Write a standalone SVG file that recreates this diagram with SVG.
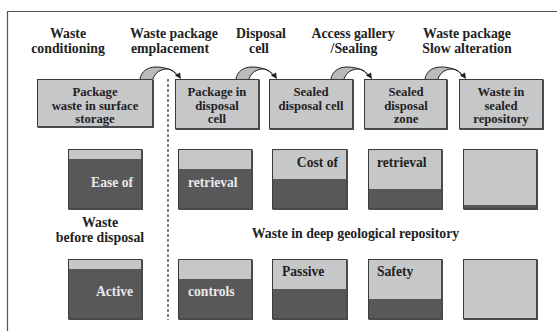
<svg xmlns="http://www.w3.org/2000/svg" xmlns:xlink="http://www.w3.org/1999/xlink" width="557" height="331" viewBox="0 0 557 331">
<style>
text{font-family:"Liberation Serif","Times New Roman",serif;font-weight:bold;fill:#222}
.hd{font-size:13.8px;text-anchor:middle}
.bl{font-size:12.7px;text-anchor:middle}
.in{font-size:13.6px}
.wt{fill:#e8e8e8}
.box{fill:#c6c7c9;stroke:#3a3a3a;stroke-width:1}
.lt{fill:#c6c7c9}
.dk{fill:#58585a}
.edge{fill:none;stroke:#3a3a3a;stroke-width:1}
.shd{fill:none;stroke:#4a4a4a;stroke-width:2}
.arc{fill:none;stroke:#222;stroke-width:1}
</style>
<defs>
<g id="hump">
<path d="M0,79 C1,72 7,67 16,67 C22,67 26,68 28,69 C21,69 15,73 13,79 Z" fill="#b9babc"/>
<path class="arc" d="M0,79 C1,72 7,67 16,67 C27,67 35,71 39,77"/>
<path class="arc" d="M13,79 C15,73 20,69 27,69 C32,69 35,72 37,76"/>
<polygon points="41,79 35,75.5 40,72.5" fill="#222"/>
</g>
</defs>
<rect width="557" height="331" fill="#fff"/>
<path d="M7.5,331 V11.5 H557" fill="none" stroke="#555" stroke-width="1.2"/>

<g id="headers">
<text class="hd" x="68" y="37.5">Waste</text>
<text class="hd" x="68" y="52.5">conditioning</text>
<text class="hd" x="174" y="37.5">Waste package</text>
<text class="hd" x="170" y="52.5">emplacement</text>
<text class="hd" x="261" y="37.5">Disposal</text>
<text class="hd" x="259" y="52.5">cell</text>
<text class="hd" x="353" y="37.5">Access gallery</text>
<text class="hd" x="354" y="52.5">/Sealing</text>
<text class="hd" x="467" y="37.5">Waste package</text>
<text class="hd" x="467" y="52.5">Slow alteration</text>
</g>

<line x1="168" y1="79" x2="168" y2="320" stroke="#333" stroke-width="1.2" stroke-dasharray="3,2"/>

<g id="stage1">
<rect class="box" x="37.5" y="79.5" width="115" height="47"/>
<path class="shd" d="M153,79.5 V127 H37.5"/>
<text class="bl" x="95" y="96">Package</text>
<text class="bl" x="95" y="109.7">waste in surface</text>
<text class="bl" x="95" y="123.4">storage</text>
</g>
<g id="stage2">
<rect class="box" x="175.5" y="79.5" width="83" height="49"/>
<path class="shd" d="M259,79.5 V129 H175.5"/>
<text class="bl" x="217" y="96">Package in</text>
<text class="bl" x="217" y="109.7">disposal</text>
<text class="bl" x="217" y="123.4">cell</text>
</g>
<g id="stage3">
<rect class="box" x="269.5" y="79.5" width="83" height="49"/>
<path class="shd" d="M353,79.5 V129 H269.5"/>
<text class="bl" x="311" y="96">Sealed</text>
<text class="bl" x="311" y="109.7">disposal cell</text>
</g>
<g id="stage4">
<rect class="box" x="364.5" y="79.5" width="82" height="49"/>
<path class="shd" d="M447,79.5 V129 H364.5"/>
<text class="bl" x="406" y="96">Sealed</text>
<text class="bl" x="406" y="109.7">disposal</text>
<text class="bl" x="406" y="123.4">zone</text>
</g>
<g id="stage5">
<rect class="box" x="459.5" y="79.5" width="83" height="49"/>
<path class="shd" d="M543,79.5 V129 H459.5"/>
<text class="bl" x="501" y="96">Waste in</text>
<text class="bl" x="501" y="109.7">sealed</text>
<text class="bl" x="501" y="123.4">repository</text>
</g>

<g id="connectors">
<use xlink:href="#hump" href="#hump" x="140"/>
<use xlink:href="#hump" href="#hump" x="236"/>
<use xlink:href="#hump" href="#hump" x="331"/>
<use xlink:href="#hump" href="#hump" x="425"/>
</g>

<g id="retrieval-row">
<g id="r1">
<rect class="lt" x="68" y="149" width="74" height="10"/>
<rect class="dk" x="68" y="159" width="74" height="50"/>
<rect class="edge" x="68.5" y="149.5" width="73" height="59"/>
<path class="shd" d="M142,149.5 V209 H68.5"/>
<text class="in wt" x="133" y="186.7" text-anchor="end">Ease of</text>
</g>
<g id="r2">
<rect class="lt" x="178" y="149" width="74" height="20"/>
<rect class="dk" x="178" y="169" width="74" height="40"/>
<rect class="edge" x="178.5" y="149.5" width="73" height="59"/>
<path class="shd" d="M252,149.5 V209 H178.5"/>
<text class="in wt" x="188" y="186.5">retrieval</text>
</g>
<g id="r3">
<rect class="lt" x="272" y="149" width="75" height="30"/>
<rect class="dk" x="272" y="179" width="75" height="30"/>
<rect class="edge" x="272.5" y="149.5" width="74" height="59"/>
<path class="shd" d="M347,149.5 V209 H272.5"/>
<text class="in" x="338" y="167.3" text-anchor="end">Cost of</text>
</g>
<g id="r4">
<rect class="lt" x="368" y="149" width="74" height="40"/>
<rect class="dk" x="368" y="189" width="74" height="20"/>
<rect class="edge" x="368.5" y="149.5" width="73" height="59"/>
<path class="shd" d="M442,149.5 V209 H368.5"/>
<text class="in" x="377" y="167.3">retrieval</text>
</g>
<g id="r5">
<rect class="lt" x="463" y="149" width="74" height="56"/>
<rect class="dk" x="463" y="205" width="74" height="4"/>
<rect class="edge" x="463.5" y="149.5" width="73" height="59"/>
<path class="shd" d="M537,149.5 V209 H463.5"/>
</g>
</g>

<g id="labels-mid">
<text class="hd" x="100" y="227">Waste</text>
<text class="hd" x="100" y="242">before disposal</text>
<text class="hd" x="355.5" y="238">Waste in deep geological repository</text>
</g>

<g id="safety-row">
<g id="s1">
<rect class="lt" x="68" y="259" width="74" height="10"/>
<rect class="dk" x="68" y="269" width="74" height="50"/>
<rect class="edge" x="68.5" y="259.5" width="73" height="59"/>
<path class="shd" d="M142,259.5 V319 H68.5"/>
<text class="in wt" x="133" y="295.7" text-anchor="end">Active</text>
</g>
<g id="s2">
<rect class="lt" x="178" y="259" width="74" height="20"/>
<rect class="dk" x="178" y="279" width="74" height="40"/>
<rect class="edge" x="178.5" y="259.5" width="73" height="59"/>
<path class="shd" d="M252,259.5 V319 H178.5"/>
<text class="in wt" x="188" y="295.7">controls</text>
</g>
<g id="s3">
<rect class="lt" x="272" y="259" width="75" height="30"/>
<rect class="dk" x="272" y="289" width="75" height="30"/>
<rect class="edge" x="272.5" y="259.5" width="74" height="59"/>
<path class="shd" d="M347,259.5 V319 H272.5"/>
<text class="in" x="282" y="276.3">Passive</text>
</g>
<g id="s4">
<rect class="lt" x="368" y="259" width="74" height="40"/>
<rect class="dk" x="368" y="299" width="74" height="20"/>
<rect class="edge" x="368.5" y="259.5" width="73" height="59"/>
<path class="shd" d="M442,259.5 V319 H368.5"/>
<text class="in" x="377" y="276.3">Safety</text>
</g>
<g id="s5">
<rect class="lt" x="463" y="259" width="74" height="60"/>
<rect class="edge" x="463.5" y="259.5" width="73" height="59"/>
<path class="shd" d="M537,259.5 V319 H463.5"/>
</g>
</g>
</svg>
